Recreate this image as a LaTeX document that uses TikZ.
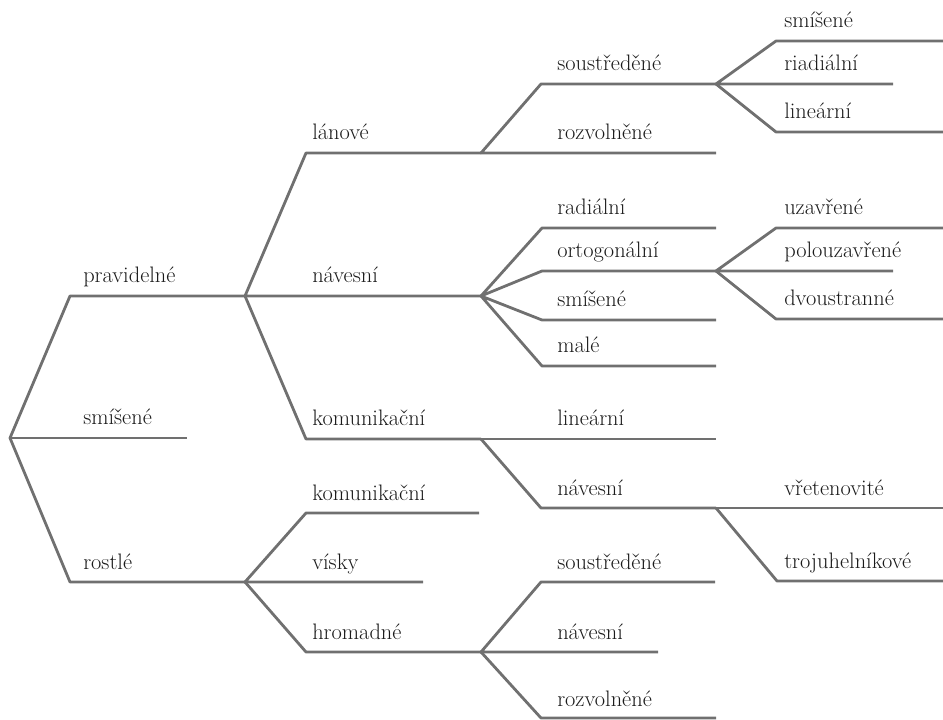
\documentclass[tikz,border=0pt]{standalone}
\usepackage{xcolor}
\usetikzlibrary{positioning}
\definecolor{linegray}{HTML}{707070}
\definecolor{textgray}{HTML}{1A1A1A}

\begin{document}
\begin{tikzpicture}[x=0.75pt,y=-0.75pt]
			\tikzstyle{lbl} = [anchor=base west, inner sep=0pt, text=textgray, font=\fontsize{16.8}{20}\selectfont]
			\tikzstyle{line} = [draw=linegray, line width=2.1pt, line join=round]
			\useasboundingbox (0,0) rectangle (943,720);
			
			% level 1
			\coordinate (root) at (10,438);
			\coordinate (pra-s) at (70,296);  \coordinate (pra-e) at (245,296);
			\coordinate (smi-e) at (187,438);
			\coordinate (ros-s) at (70,582);  \coordinate (ros-e) at (245,582);
			% level 2
			\coordinate (lan-s) at (306,153); \coordinate (lan-e) at (481,153);
			\coordinate (nav-e) at (481,296);
			\coordinate (kom-s) at (306,439); \coordinate (kom-e) at (481,439);
			\coordinate (kmr-s) at (306,513); \coordinate (kmr-e) at (479,513);
			\coordinate (vis-e) at (423,582);
			\coordinate (hro-s) at (306,652); \coordinate (hro-e) at (481,652);
			% level 3
			\coordinate (sou-s) at (541,84);  \coordinate (sou-e) at (716,84);
			\coordinate (roz-e) at (716,153);
			\coordinate (rad-s) at (542,228); \coordinate (rad-e) at (716,228);
			\coordinate (ort-s) at (542,271); \coordinate (ort-e) at (716,271);
			\coordinate (smn-s) at (542,320); \coordinate (smn-e) at (716,320);
			\coordinate (mal-s) at (542,366); \coordinate (mal-e) at (716,366);
			\coordinate (lin-e) at (716,439);
			\coordinate (nvk-s) at (541,508); \coordinate (nvk-e) at (716,508);
			\coordinate (sor-s) at (541,582); \coordinate (sor-e) at (715,582);
			\coordinate (nvr-e) at (658,652);
			\coordinate (rzr-s) at (541,718); \coordinate (rzr-e) at (716,718);
			% level 4
			\coordinate (sms-s) at (776,41);  \coordinate (sms-e) at (943,41);
			\coordinate (ria-e) at (893,84);
			\coordinate (lns-s) at (776,132); \coordinate (lns-e) at (943,132);
			\coordinate (uza-s) at (776,228); \coordinate (uza-e) at (943,228);
			\coordinate (pol-e) at (893,271);
			\coordinate (dvo-s) at (776,319); \coordinate (dvo-e) at (943,319);
			\coordinate (vre-e) at (943,508);
			\coordinate (tro-s) at (777,581); \coordinate (tro-e) at (943,581);
			
			% labels
			\node [lbl] (pra) at (83,283) {pravidelné};
			\node [lbl] (smi) at (83,425) {smíšené};
			\node [lbl] (ros) at (83,569) {rostlé};
			
			\node [lbl] (lan) at (312,140) {lánové};
			\node [lbl] (nav) at (312,283) {návesní};
			\node [lbl] (kom) at (312,426) {komunikační};
			\node [lbl] (kmr) at (312,500) {komunikační};
			\node [lbl] (vis) at (312,569) {vísky};
			\node [lbl] (hro) at (312,639) {hromadné};
			
			\node [lbl] (sou) at (557,71) {soustředěné};
			\node [lbl] (roz) at (557,140) {rozvolněné};
			\node [lbl] (rad) at (557,215) {radiální};
			\node [lbl] (ort) at (557,258) {ortogonální};
			\node [lbl] (smn) at (557,307) {smíšené};
			\node [lbl] (mal) at (557,353) {malé};
			\node [lbl] (lin) at (557,426) {lineární};
			\node [lbl] (nvk) at (557,495) {návesní};
			\node [lbl] (sor) at (557,569) {soustředěné};
			\node [lbl] (nvr) at (557,639) {návesní};
			\node [lbl] (rzr) at (557,706) {rozvolněné};
			
			\node [lbl] (sms) at (784,28) {smíšené};
			\node [lbl] (ria) at (784,71) {riadiální};
			\node [lbl] (lns) at (784,119) {lineární};
			\node [lbl] (uza) at (784,215) {uzavřené};
			\node [lbl] (pol) at (784,258) {polouzavřené};
			\node [lbl] (dvo) at (784,306) {dvoustranné};
			\node [lbl] (vre) at (784,495) {vřetenovité};
			\node [lbl] (tro) at (784,568) {trojuhelníkové};
			
			% branches
			\path [line] (pra-e) -- (pra-s) -- (root) -- (ros-s) -- (ros-e);
			\path [line] (root) -- (smi-e);
			
			\path [line] (lan-e) -- (lan-s) -- (pra-e) -- (nav-e);
			\path [line] (pra-e) -- (kom-s) -- (kom-e);
			\path [line] (kmr-e) -- (kmr-s) -- (ros-e) -- (vis-e);
			\path [line] (ros-e) -- (hro-s) -- (hro-e);
			
			\path [line] (sou-e) -- (sou-s) -- (lan-e) -- (roz-e);
			\path [line] (rad-e) -- (rad-s) -- (nav-e) -- (ort-s) -- (ort-e);
			\path [line] (smn-e) -- (smn-s) -- (nav-e) -- (mal-s) -- (mal-e);
			\path [line] (kom-e) -- (lin-e);
			\path [line] (kom-e) -- (nvk-s) -- (nvk-e);
			\path [line] (sor-e) -- (sor-s) -- (hro-e) -- (nvr-e);
			\path [line] (hro-e) -- (rzr-s) -- (rzr-e);
			
			\path [line] (sms-e) -- (sms-s) -- (sou-e) -- (ria-e);
			\path [line] (sou-e) -- (lns-s) -- (lns-e);
			\path [line] (uza-e) -- (uza-s) -- (ort-e) -- (pol-e);
			\path [line] (ort-e) -- (dvo-s) -- (dvo-e);
			\path [line] (nvk-e) -- (vre-e);
			\path [line] (nvk-e) -- (tro-s) -- (tro-e);
			\end{tikzpicture}
\end{document}
